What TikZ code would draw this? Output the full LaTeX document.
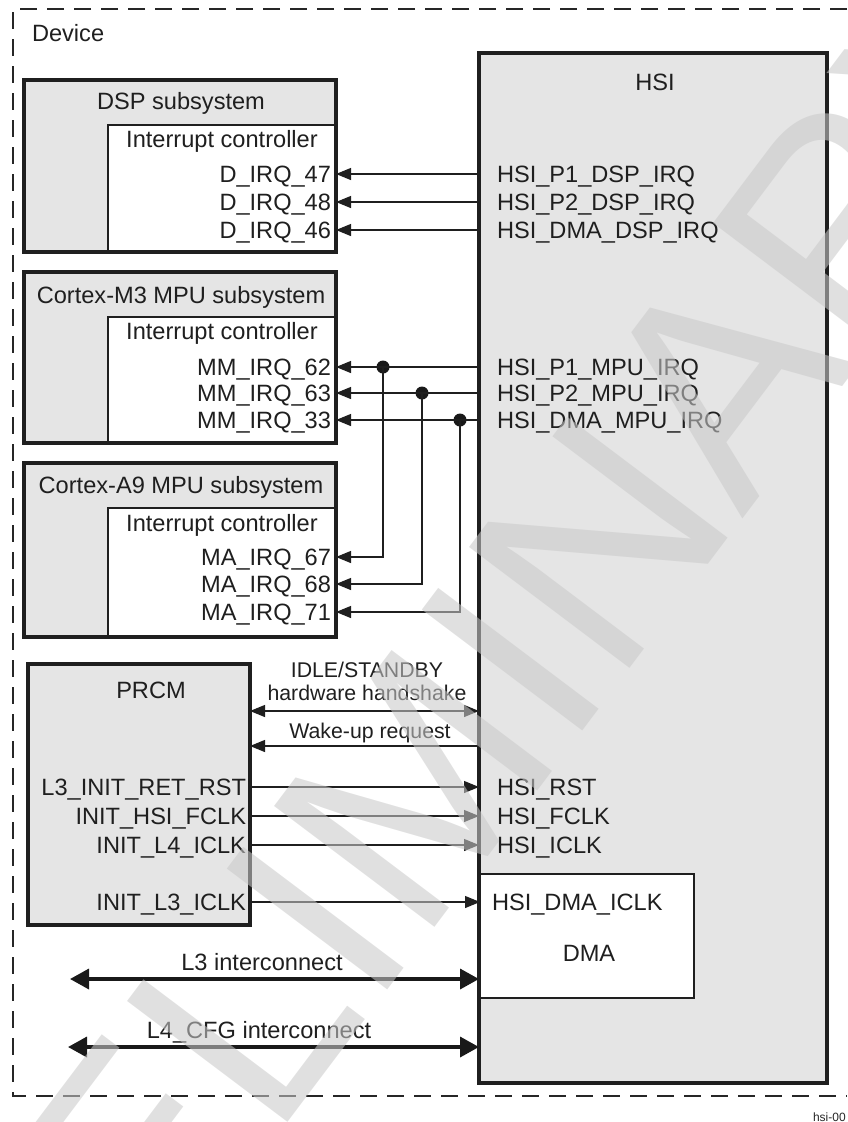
\documentclass[tikz,border=0pt]{standalone}
\usepackage{fontspec}
\setmainfont{Liberation Sans}
\usetikzlibrary{arrows.meta}
\begin{document}
\begin{tikzpicture}[x=1pt,y=-1pt,
  every node/.style={inner sep=0pt, outer sep=0pt},
  lbl/.style={font=\fontsize{23.6}{27}\selectfont, text=black!88, text height=16.9pt, text depth=0pt},
  lblb/.style={font=\fontsize{21.3}{25}\selectfont, text=black!88, text height=15.2pt, text depth=0pt},
  subbox/.style={fill=gray!20, anchor=north west},
  frame/.style={draw=black!88, line width=3.4pt},
  inbox/.style={fill=white, draw=black!88, line width=1.5pt, anchor=north west},
  sig/.style={draw=black!88, line width=1.2pt},
  arr/.style={sig, -{Triangle[length=15pt,width=12pt]}},
  darr/.style={sig, {Triangle[length=15pt,width=12pt]}-{Triangle[length=15pt,width=12pt]}},
  bus/.style={draw=black!90, line width=3.5pt, {Triangle[length=19pt,width=20pt]}-{Triangle[length=19pt,width=20pt]}},
  jdot/.style={circle, fill=black!90, minimum size=13pt},
]
\useasboundingbox (0,0) rectangle (847,1122);

% Device border
\draw[black!85, line width=2pt, dash pattern=on 17pt off 10pt] (847,9) -- (13,9) -- (13,1096) -- (847,1096);
\node[lbl, anchor=west] (dev) at (32,33) {Device};

% HSI block
\node[subbox, minimum width=348, minimum height=1030] (hsi) at (479,53) {};
\node[lbl] (hsit) at (655,82) {HSI};

% DSP subsystem
\node[subbox, minimum width=312, minimum height=172] (dsp) at (24,80) {};
\node[inbox, minimum width=228, minimum height=127] (dspic) at (108,125) {};
\draw[frame] (dsp.north west) rectangle (dsp.south east);
\node[lbl] (dspt) at (181,101) {DSP subsystem};
\node[lbl] (dspict) at (222,139) {Interrupt controller};
\node[lbl, anchor=east] (d47) at (331,174) {D\_IRQ\_47};
\node[lbl, anchor=east] (d48) at (331,202) {D\_IRQ\_48};
\node[lbl, anchor=east] (d46) at (331,230) {D\_IRQ\_46};

% Cortex-M3
\node[subbox, minimum width=312, minimum height=171] (m3) at (24,272) {};
\node[inbox, minimum width=228, minimum height=126] (m3ic) at (108,317) {};
\draw[frame] (m3.north west) rectangle (m3.south east);
\node[lbl] (m3t) at (181,295) {Cortex-M3 MPU subsystem};
\node[lbl] (m3ict) at (222,331) {Interrupt controller};
\node[lbl, anchor=east] (mm62) at (331,367) {MM\_IRQ\_62};
\node[lbl, anchor=east] (mm63) at (331,393) {MM\_IRQ\_63};
\node[lbl, anchor=east] (mm33) at (331,420) {MM\_IRQ\_33};

% Cortex-A9
\node[subbox, minimum width=312, minimum height=174] (a9) at (24,463) {};
\node[inbox, minimum width=228, minimum height=129] (a9ic) at (108,508) {};
\draw[frame] (a9.north west) rectangle (a9.south east);
\node[lbl] (a9t) at (181,485) {Cortex-A9 MPU subsystem};
\node[lbl] (a9ict) at (222,523) {Interrupt controller};
\node[lbl, anchor=east] (ma67) at (331,557) {MA\_IRQ\_67};
\node[lbl, anchor=east] (ma68) at (331,584) {MA\_IRQ\_68};
\node[lbl, anchor=east] (ma71) at (331,612) {MA\_IRQ\_71};

% PRCM
\node[subbox, minimum width=222, minimum height=261] (prcm) at (28,664) {};
\draw[frame] (prcm.north west) rectangle (prcm.south east);
\node[lbl] (prcmt) at (151,690) {PRCM};
\node[lbl, anchor=east] (p1) at (246,787) {L3\_INIT\_RET\_RST};
\node[lbl, anchor=east] (p2) at (246,816) {INIT\_HSI\_FCLK};
\node[lbl, anchor=east] (p3) at (246,845) {INIT\_L4\_ICLK};
\node[lbl, anchor=east] (p4) at (246,902) {INIT\_L3\_ICLK};

% DMA inside HSI
\node[inbox, line width=2pt, minimum width=214, minimum height=124] (dma) at (480,874) {};
\node[lbl, anchor=west] (q4) at (492,902) {HSI\_DMA\_ICLK};
\node[lbl] (dmat) at (589,953) {DMA};
\draw[frame] (hsi.north west) rectangle (hsi.south east);

% HSI signal labels
\node[lbl, anchor=west] (h1) at (497,174) {HSI\_P1\_DSP\_IRQ};
\node[lbl, anchor=west] (h2) at (497,202) {HSI\_P2\_DSP\_IRQ};
\node[lbl, anchor=west] (h3) at (497,230) {HSI\_DMA\_DSP\_IRQ};
\node[lbl, anchor=west] (h4) at (497,367) {HSI\_P1\_MPU\_IRQ};
\node[lbl, anchor=west] (h5) at (497,393) {HSI\_P2\_MPU\_IRQ};
\node[lbl, anchor=west] (h6) at (497,420) {HSI\_DMA\_MPU\_IRQ};
\node[lbl, anchor=west] (q1) at (497,787) {HSI\_RST};
\node[lbl, anchor=west] (q2) at (497,816) {HSI\_FCLK};
\node[lbl, anchor=west] (q3) at (497,845) {HSI\_ICLK};

% DSP interrupts
\draw[arr] (hsi.west |- h1) -- (dspic.east |- d47);
\draw[arr] (hsi.west |- h2) -- (dspic.east |- d48);
\draw[arr] (hsi.west |- h3) -- (dspic.east |- d46);

% MPU interrupts
\node[jdot] (j1) at (383,367) {};
\node[jdot] (j2) at (422,393) {};
\node[jdot] (j3) at (460,420) {};
\draw[arr] (hsi.west |- h4) -- (m3ic.east |- mm62);
\draw[arr] (hsi.west |- h5) -- (m3ic.east |- mm63);
\draw[arr] (hsi.west |- h6) -- (m3ic.east |- mm33);
\draw[arr] (j1.center) |- (a9ic.east |- ma67);
\draw[arr] (j2.center) |- (a9ic.east |- ma68);
\draw[arr] (j3.center) |- (a9ic.east |- ma71);

% PRCM handshakes
\node[lblb] (idl1) at (367,670) {IDLE/STANDBY};
\node[lblb] (idl2) at (367,693) {hardware handshake};
\coordinate (hs) at (365,711);
\draw[darr] (prcm.east |- hs) -- (hsi.west |- hs);
\node[lblb] (wkt) at (370,731) {Wake-up request};
\coordinate (wk) at (365,746);
\draw[arr] (hsi.west |- wk) -- (prcm.east |- wk);

% clocks and reset
\draw[arr] (prcm.east |- p1) -- (hsi.west |- q1);
\draw[arr] (prcm.east |- p2) -- (hsi.west |- q2);
\draw[arr] (prcm.east |- p3) -- (hsi.west |- q3);
\draw[arr] (prcm.east |- p4) -- (dma.west |- q4);

% interconnects
\node[lbl] (l3t) at (262,962) {L3 interconnect};
\coordinate (l3e) at (70,979);
\draw[bus] (l3e) -- (hsi.west |- l3e);
\node[lbl] (l4t) at (259,1030) {L4\_CFG interconnect};
\coordinate (l4e) at (68,1047);
\draw[bus] (l4e) -- (hsi.west |- l4e);

\node[font=\fontsize{12}{14}\selectfont, anchor=west, text=black!85] (fig) at (813,1117) {hsi-00};

% watermark
\node[rotate=53, font=\fontsize{292}{292}\selectfont, text=black!21, text opacity=0.57] (wm) at (426,772) {PRELIMINARY};
\end{tikzpicture}
\end{document}
